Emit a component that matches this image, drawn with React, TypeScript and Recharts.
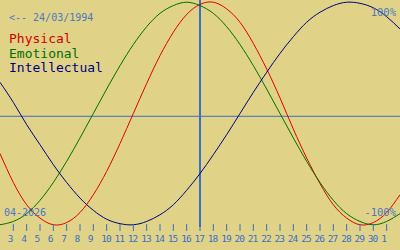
import { LineChart, Line, XAxis, YAxis, ReferenceLine } from "recharts";

// day positions: 0 = 2 Apr 2026 ... 30 = 2 May 2026
const dayIndex = [0, 1, 2, 3, 4, 5, 6, 7, 8, 9, 10, 11, 12, 13, 14, 15, 16, 17, 18, 19, 20, 21, 22, 23, 24, 25, 26, 27, 28, 29, 30];
const tickIndex = [1, 2, 3, 4, 5, 6, 7, 8, 9, 10, 11, 12, 13, 14, 15, 16, 17, 18, 19, 20, 21, 22, 23, 24, 25, 26, 27, 28, 29];
const tickDays = [3, 4, 5, 6, 7, 8, 9, 10, 11, 12, 13, 14, 15, 16, 17, 18, 19, 20, 21, 22, 23, 24, 25, 26, 27, 28, 29, 30, 1];
const today = 15;

const physical = [-36, -62, -82, -94, -100, -98, -89, -73, -52, -27, 0, 27, 52, 73, 89, 98, 100, 94, 82, 63, 40, 14, -14, -40, -63, -82, -94, -100, -98, -89, -73];
const emotional = [-100, -97, -90, -78, -62, -43, -22, 0, 22, 43, 62, 78, 90, 97, 100, 97, 90, 78, 62, 43, 22, 0, -22, -43, -62, -78, -90, -97, -100, -97, -90];
const intellectual = [28, 10, -10, -28, -46, -62, -76, -87, -95, -99, -100, -97, -91, -82, -69, -54, -37, -19, 0, 19, 37, 54, 69, 82, 91, 97, 100, 99, 95, 87, 76];

const data = dayIndex.map((k, i) => ({
  k,
  physical: physical[i],
  emotional: emotional[i],
  intellectual: intellectual[i],
}));

const BG = "#E0D388";
const AXIS_BLUE = "#3A6FC8";
const TEXT_BLUE = "#4A78C0";
const MONO = "'DejaVu Sans Mono', monospace";

function DayTick(props: any) {
  const { x, y, payload } = props;
  const label = tickDays[tickIndex.indexOf(payload.value)];
  return (
    <g>
      <line x1={x} x2={x} y1={y - 3} y2={y + 4} stroke={AXIS_BLUE} strokeWidth={1} />
      <text
        x={x - 5.5}
        y={y + 14.5}
        fill={AXIS_BLUE}
        fontSize={9.5}
        fontFamily={MONO}
        letterSpacing={-1}
        textAnchor="start"
      >
        {label}
      </text>
    </g>
  );
}

export default function App() {
  return (
    <div style={{ position: "fixed", left: 0, top: 0, width: 400, height: 250, background: BG }}>
      <LineChart width={400} height={250} data={data} margin={{ top: 0, right: 0, bottom: 0, left: 0 }}>
        <XAxis
          dataKey="k"
          type="number"
          domain={[0, 30]}
          ticks={tickIndex}
          interval={0}
          axisLine={false}
          tickLine={false}
          tickSize={0}
          tickMargin={0}
          height={23}
          tick={<DayTick />}
        />
        <YAxis hide domain={[-102, 102]} />
        <ReferenceLine y={-2.5} stroke={AXIS_BLUE} strokeWidth={1} />
        <ReferenceLine x={today} stroke={AXIS_BLUE} strokeWidth={2} />
        <Line type="natural" dataKey="physical" stroke="#E00000" strokeWidth={1} dot={false} activeDot={false} isAnimationActive={false} />
        <Line type="natural" dataKey="emotional" stroke="#007000" strokeWidth={1} dot={false} activeDot={false} isAnimationActive={false} />
        <Line type="natural" dataKey="intellectual" stroke="#000080" strokeWidth={1} dot={false} activeDot={false} isAnimationActive={false} />
      </LineChart>
      <svg width={400} height={250} style={{ position: "absolute", left: 0, top: 0, pointerEvents: "none" }}>
        <text x={9} y={21} fill={TEXT_BLUE} fontSize={10} fontFamily={MONO}>{"<-- 24/03/1994"}</text>
        <text x={9} y={43} fill="#D00000" fontSize={13} fontFamily={MONO}>Physical</text>
        <text x={9} y={57.5} fill="#007000" fontSize={13} fontFamily={MONO}>Emotional</text>
        <text x={9} y={72} fill="#000080" fontSize={13} fontFamily={MONO}>Intellectual</text>
        <text x={396} y={16} fill={TEXT_BLUE} fontSize={10.5} fontFamily={MONO} textAnchor="end">100%</text>
        <text x={396} y={216} fill={TEXT_BLUE} fontSize={10.5} fontFamily={MONO} textAnchor="end">-100%</text>
        <text x={4} y={216} fill={TEXT_BLUE} fontSize={10} fontFamily={MONO}>04-2026</text>
      </svg>
    </div>
  );
}
